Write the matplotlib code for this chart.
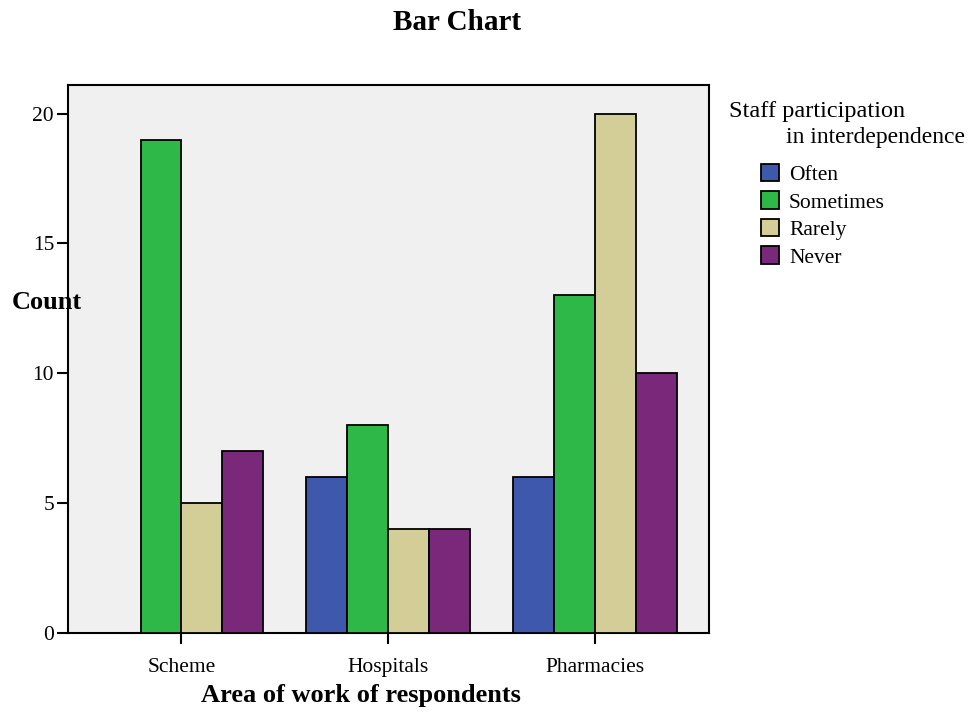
import matplotlib
matplotlib.use("Agg")
import matplotlib.pyplot as plt
import numpy as np
from matplotlib.patches import Patch

plt.rcParams["font.family"] = ["Liberation Serif", "DejaVu Serif"]

areas = ["Scheme", "Hospitals", "Pharmacies"]
levels = ["Often", "Sometimes", "Rarely", "Never"]
counts = {
    "Often": [0, 6, 6],
    "Sometimes": [19, 8, 13],
    "Rarely": [5, 4, 20],
    "Never": [7, 4, 10],
}
colors = {
    "Often": "#3E58AC",
    "Sometimes": "#2EB848",
    "Rarely": "#D3CE97",
    "Never": "#7A287A",
}
y_ticks = [0, 5, 10, 15, 20]

fig = plt.figure(figsize=(9.73, 7.13), dpi=100)
ax = fig.add_axes([0.0699, 0.1122, 0.6588, 0.7686])
ax.set_facecolor("#F0F0F0")

x = np.arange(len(areas))
width = 0.198
for i, level in enumerate(levels):
    offs = (i - 1.5) * width
    vals = counts[level]
    for xi, v in zip(x, vals):
        if v > 0:
            ax.bar(xi + offs, v, width=width, color=colors[level],
                   edgecolor="black", linewidth=1.3, zorder=3)

ax.set_xlim(-0.549, 2.552)
ax.set_ylim(0, 21.1)
ax.set_yticks(y_ticks)
ax.set_xticks(x)
ax.set_xticklabels(areas, fontsize=15.5)
ax.tick_params(axis="y", labelsize=15.5, length=8, width=1.5, direction="out", pad=2)
ax.tick_params(axis="x", length=8, width=1.5, direction="out", pad=10)
for s in ax.spines.values():
    s.set_linewidth(1.5)

ax.set_xlabel("Area of work of respondents", fontsize=19, fontweight="bold")
ax.xaxis.set_label_coords(0.457, -0.093)
ax.set_ylabel("Count", fontsize=19, fontweight="bold", rotation=0, ha="left", va="center")
ax.yaxis.set_label_coords(-0.087, 0.604)

fig.text(457 / 973, 1 - 22 / 713, "Bar Chart", ha="center", va="center",
         fontsize=21, fontweight="bold")

fig.text(729 / 973, 1 - 112 / 713, "Staff participation", ha="left", va="center", fontsize=17.5)
fig.text(786 / 973, 1 - 138 / 713, "in interdependence", ha="left", va="center", fontsize=17)

handles = [Patch(facecolor=colors[l], edgecolor="black", linewidth=1.3, label=l) for l in levels]
fig.legend(handles=handles, loc="upper left", bbox_to_anchor=(761 / 973, 1 - 164 / 713),
           frameon=False, fontsize=15.5, handlelength=0.85, handleheight=0.85,
           handletextpad=0.45, labelspacing=0.3, borderaxespad=0, borderpad=0)

fig.savefig("out.png", dpi=100)
